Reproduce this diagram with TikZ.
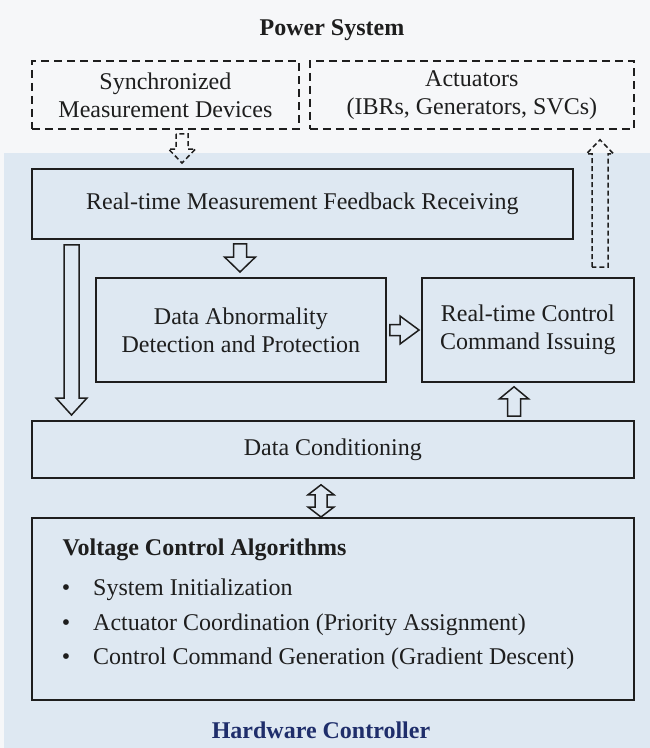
\documentclass[tikz,border=0pt]{standalone}
\usepackage{fontspec}
\setmainfont{Liberation Serif}
\usetikzlibrary{calc}
\definecolor{bgtop}{HTML}{F6F7F9}
\definecolor{bgblue}{HTML}{DEE8F2}
\definecolor{ink}{HTML}{1E1E1E}
\definecolor{hwblue}{HTML}{1F2E6B}
\newcommand{\vblock}[6]{\draw[#1] let \p1=(#2), \p2=(#3), \n1={sign(\y2-\y1)} in
  ({\x1-#4},\y1) -- ({\x1-#4},{\y2-\n1*#6}) -- ({\x1-#5},{\y2-\n1*#6}) -- (\x1,\y2)
  -- ({\x1+#5},{\y2-\n1*#6}) -- ({\x1+#4},{\y2-\n1*#6}) -- ({\x1+#4},\y1) -- cycle;}
\newcommand{\hblock}[6]{\draw[#1] let \p1=(#2), \p2=(#3) in
  (\x1,{\y1+#4}) -- ({\x2-#6},{\y1+#4}) -- ({\x2-#6},{\y1+#5}) -- (\x2,\y1)
  -- ({\x2-#6},{\y1-#5}) -- ({\x2-#6},{\y1-#4}) -- (\x1,{\y1-#4}) -- cycle;}
\newcommand{\dvblock}[6]{\draw[#1] let \p1=(#2), \p2=(#3) in
  (\x1,\y1) -- ({\x1+#5},{\y1-#6}) -- ({\x1+#4},{\y1-#6}) -- ({\x1+#4},{\y2+#6})
  -- ({\x1+#5},{\y2+#6}) -- (\x1,\y2) -- ({\x1-#5},{\y2+#6}) -- ({\x1-#4},{\y2+#6})
  -- ({\x1-#4},{\y1-#6}) -- ({\x1-#5},{\y1-#6}) -- cycle;}
\begin{document}
\begin{tikzpicture}[x=1pt,y=-1pt,font=\fontsize{24}{28}\selectfont,
  box/.style={draw=ink,line width=1.8pt,anchor=north west,inner sep=0pt,align=center,text=ink},
  dbox/.style={box,dash pattern=on 8pt off 5pt},
  harrow/.style={draw=ink,line width=1.5pt,fill=bgblue,line join=miter},
  darrow/.style={draw=ink,line width=1.5pt,dash pattern=on 5pt off 3pt,line join=miter},
  ttl/.style={font=\fontsize{24}{28}\selectfont\bfseries}]
\useasboundingbox (0,0) rectangle (650,748);
\fill[bgtop] (0,0) rectangle (650,748);
\fill[bgblue] (4,153) rectangle (650,748);

\node[ttl,text=ink] (ps) at (332,30) {Power System};
\node[dbox,minimum width=267pt,minimum height=68pt] (sync) at (31,60) {Synchronized\\Measurement Devices};
\node[dbox,minimum width=324pt,minimum height=68pt] (act) at (309,60) {Actuators\\(IBRs, Generators, SVCs)};

\node[box,minimum width=541pt,minimum height=70pt] (fb) at (31,168) {Real-time Measurement Feedback Receiving};
\node[box,minimum width=290pt,minimum height=104pt] (abn) at (95,277) {Data Abnormality\\Detection and Protection};
\node[box,minimum width=212pt,minimum height=104pt] (ctl) at (421,277) {Real-time Control\\Command Issuing};
\node[box,minimum width=602pt,minimum height=57pt] (dc) at (31,420) {Data Conditioning};
\node[box,minimum width=602pt,minimum height=182pt] (vca) at (31,517) {};

\node[ttl,anchor=west,text=ink] (vtitle) at (59,550) {Voltage Control Algorithms};
\foreach \yy/\tt [count=\i] in {590/System Initialization,625/Actuator Coordination (Priority Assignment),659/Control Command Generation (Gradient Descent)}{
  \node[anchor=center,text=ink] (b\i) at (66,\yy) {\textbullet};
  \node[anchor=west,inner sep=0pt,text=ink] (t\i) at (93,\yy) {\tt};
}
\node[ttl,text=hwblue] (hw) at (321,730) {Hardware Controller};

% x reference coordinates
\coordinate (Xs) at (182,0);
\coordinate (Xa) at (600,0);
\coordinate (X1) at (240,0);
\coordinate (X2) at (71.5,0);
\coordinate (X3) at (514,0);
\coordinate (X4) at (321,0);
\coordinate (Y1) at (0,330);

% dashed arrows
\vblock{darrow}{$(sync.south -| Xs)+(0,4)$}{$(fb.north -| Xs)+(0,-5)$}{6pt}{13.5pt}{14pt}
\vblock{darrow}{$(ctl.north -| Xa)+(0,-10)$}{$(act.south -| Xa)+(0,10)$}{8pt}{13.5pt}{14pt}

% hollow arrows
\vblock{harrow}{$(fb.south -| X1)+(0,4)$}{$(abn.north -| X1)+(0,-5)$}{6.5pt}{15.5pt}{15pt}
\vblock{harrow}{$(fb.south -| X2)+(0,5)$}{$(dc.north -| X2)+(0,-5)$}{7.5pt}{15.5pt}{17pt}
\hblock{harrow}{$(abn.east |- Y1)+(3,0)$}{$(ctl.west |- Y1)+(-2,0)$}{5.5pt}{14pt}{19pt}
\vblock{harrow}{$(dc.north -| X3)+(0,-4)$}{$(ctl.south -| X3)+(0,4)$}{6.5pt}{14.5pt}{12pt}
\dvblock{harrow}{$(dc.south -| X4)+(0,6)$}{$(vca.north -| X4)+(0,0)$}{6pt}{13pt}{10pt}
\end{tikzpicture}
\end{document}
